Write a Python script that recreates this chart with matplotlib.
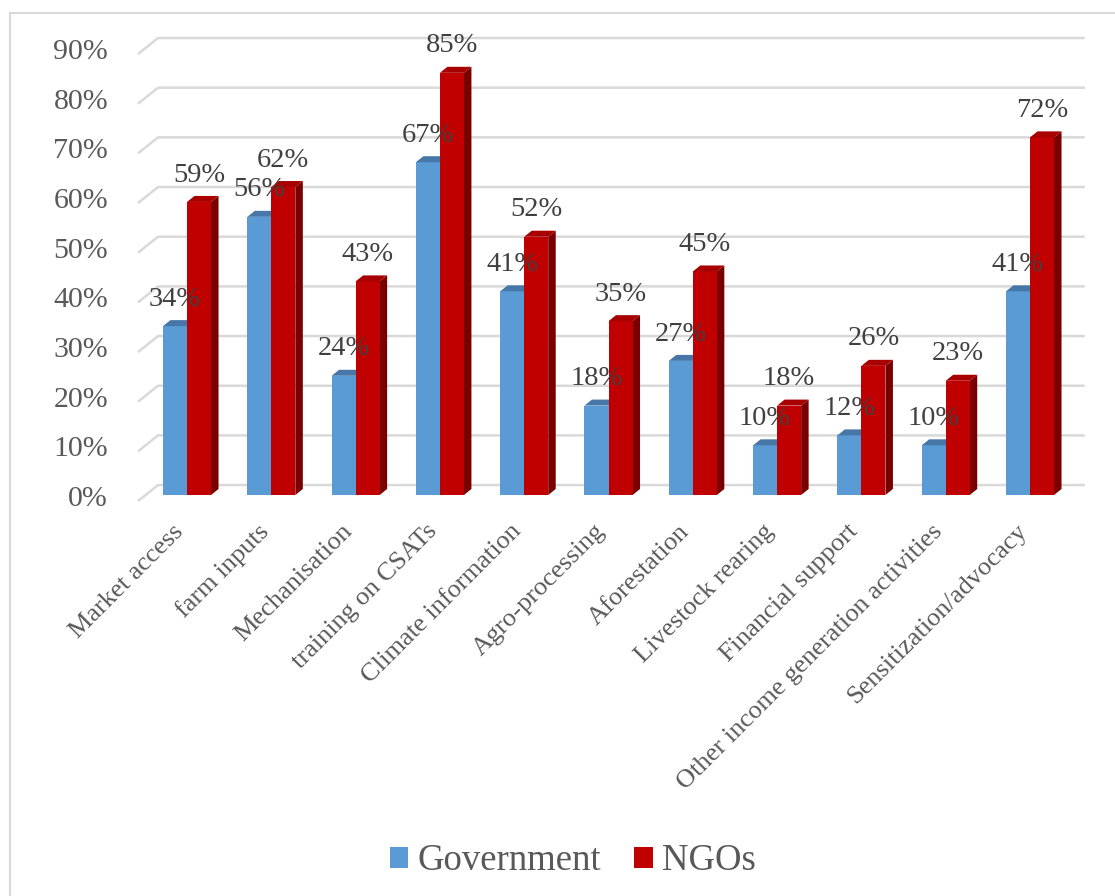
import numpy as np
import matplotlib.pyplot as plt
from matplotlib.patches import Polygon, Rectangle, Patch

plt.rcParams['font.family'] = ['Liberation Serif', 'DejaVu Serif']

# Data
categories = ['Market access', 'farm inputs', 'Mechanisation', 'training on CSATs',
              'Climate information', 'Agro-processing', 'Aforestation', 'Livestock rearing',
              'Financial support', 'Other income generation activities', 'Sensitization/advocacy']
government = [34, 56, 24, 67, 41, 18, 27, 10, 12, 10, 41]
ngos = [59, 62, 43, 85, 52, 35, 45, 18, 26, 23, 72]
yticks = [0, 10, 20, 30, 40, 50, 60, 70, 80, 90]

blue, blue_top = '#5B9BD5', '#4677A8'
red, red_top, red_side = '#C00000', '#A80000', '#7A0000'
grid_col = '#D9D9D9'

fig = plt.figure(figsize=(11.15, 8.96), dpi=100)
ax = fig.add_axes([100 / 1115, 1 - 510 / 896, 1000 / 1115, 490 / 896])
ax.set_xlim((100 - 187) / 84.3, (1100 - 187) / 84.3)
ax.set_ylim((495 - 510) / 4.967, (495 - 20) / 4.967)
ax.axis('off')

# 3D-look parameters (in data units)
w = 0.285          # bar width
dx, dy = 0.089, 1.21   # bar depth
back = 2.0         # back wall offset
gx0, gx1, gxe = -0.581, -0.344, 10.65

# gridlines: diagonal floor/wall segment plus back line
for t in yticks:
    yb = t + back
    ax.plot([gx0, gx1, gxe], [yb - 3.22, yb, yb], color=grid_col, lw=1.8,
            zorder=1, solid_capstyle='butt')
    ax.text(-0.937, t - 0.8, f'{t}%', ha='right', va='center',
            fontsize=21.5, color='#595959')


def bar3d(x0, v, front, top, side):
    ax.add_patch(Rectangle((x0, 0), w, v, facecolor=front, edgecolor='none', zorder=3))
    ax.add_patch(Polygon([(x0, v), (x0 + w, v), (x0 + w + dx, v + dy), (x0 + dx, v + dy)],
                         closed=True, facecolor=top, edgecolor='none', zorder=3))
    ax.add_patch(Polygon([(x0 + w, 0), (x0 + w, v), (x0 + w + dx, v + dy), (x0 + w + dx, dy)],
                         closed=True, facecolor=side, edgecolor='none', zorder=2.9))


x = np.arange(len(categories))
for i in x:
    bar3d(i - w, government[i], blue, blue_top, '#3F6F9E')
    bar3d(i, ngos[i], red, red_top, red_side)

for i in x:
    ax.text(i - w / 2, government[i] + 4.1, f'{government[i]}%', ha='center',
            va='baseline', fontsize=20.5, color='#404040', zorder=5)
    ax.text(i + w / 2, ngos[i] + 4.1, f'{ngos[i]}%', ha='center',
            va='baseline', fontsize=20.5, color='#404040', zorder=5)
    ax.text(i - 0.17, -5.1, categories[i], rotation=45, ha='right', va='top',
            rotation_mode='anchor', fontsize=19, color='#595959', clip_on=False)

# chart border
fig.patches.append(Rectangle((10 / 1115, -0.1), 1.2, 1 - 13 / 896 + 0.1,
                             transform=fig.transFigure, fill=False,
                             edgecolor=grid_col, lw=1.5))

handles = [Patch(facecolor=blue, label='Government'), Patch(facecolor=red, label='NGOs')]
fig.legend(handles=handles, loc='center', bbox_to_anchor=(573 / 1115, 1 - 861 / 896),
           ncol=2, frameon=False, fontsize=26.5, handlelength=0.51, handleheight=0.51,
           handletextpad=0.25, columnspacing=0.9, labelcolor='#595959')

fig.savefig('out.png', dpi=100)
